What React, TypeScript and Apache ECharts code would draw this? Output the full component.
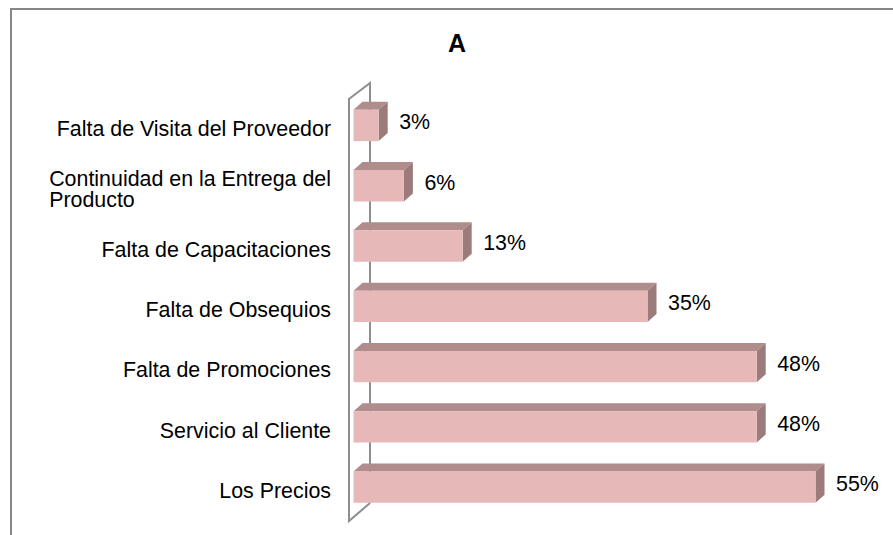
import React, { useEffect, useRef } from "react";
import * as echarts from "echarts";

const title = "A";
const categories = [
  "Falta de Visita del Proveedor",
  "Continuidad en la Entrega del\nProducto",
  "Falta de Capacitaciones",
  "Falta de Obsequios",
  "Falta de Promociones",
  "Servicio al Cliente",
  "Los Precios",
];
const values = [3, 6, 13, 35, 48, 48, 55];
const axisMax = 60;

const FONT = "'Liberation Sans', Arial, sans-serif";
const FS = 21.4;
const GRID_LEFT = 349;
const GRID_TOP = 99;
const GRID_BOTTOM_Y = 521;
const GRID_RIGHT = 40;
const WALL_DX = 21;
const WALL_DY = 16;

export default function App() {
  const ref = useRef<HTMLDivElement>(null);
  useEffect(() => {
    if (!ref.current) return;
    const chart = echarts.init(ref.current, null, { renderer: "svg" });
    const front = "#E6B9B8";
    const topC = "#B08C8C";
    const sideC = "#9C7B7B";
    chart.setOption({
      animation: false,
      backgroundColor: "#ffffff",
      grid: {
        left: GRID_LEFT,
        top: GRID_TOP,
        right: GRID_RIGHT,
        bottom: 535 - GRID_BOTTOM_Y,
        containLabel: false,
      },
      xAxis: { type: "value", min: 0, max: axisMax, show: false },
      yAxis: {
        type: "category",
        inverse: true,
        data: categories,
        axisLine: { show: false },
        axisTick: { show: false },
        splitLine: { show: false },
        axisLabel: {
          margin: 18,
          color: "#000",
          fontFamily: FONT,
          fontSize: FS,
          lineHeight: 21.5,
          formatter: (val: string) =>
            val
              .split("\n")
              .map((s) => `{l|${s}}`)
              .join("\n"),
          rich: {
            l: {
              align: "left",
              fontFamily: FONT,
              fontSize: FS,
              lineHeight: 21.5,
              color: "#000",
            },
          },
        },
      },
      graphic: [
        {
          type: "rect",
          z: 0,
          shape: { x: 11, y: 9, width: 1000, height: 1000 },
          style: { fill: "none", stroke: "#868686", lineWidth: 2 },
        },
        {
          type: "polyline",
          z: 0,
          shape: {
            points: [
              [GRID_LEFT + WALL_DX, GRID_BOTTOM_Y - WALL_DY - 2],
              [GRID_LEFT, GRID_BOTTOM_Y],
              [GRID_LEFT, GRID_TOP],
              [GRID_LEFT + WALL_DX, GRID_TOP - WALL_DY],
              [GRID_LEFT + WALL_DX, GRID_BOTTOM_Y - WALL_DY - 2],
            ],
          },
          style: { fill: "none", stroke: "#8E8E8E", lineWidth: 2 },
        },
        {
          type: "text",
          z: 5,
          x: 457,
          y: 43,
          style: {
            text: title,
            align: "center",
            verticalAlign: "middle",
            font: `bold 25px ${FONT}`,
            fill: "#000",
          },
        },
      ],
      series: [
        {
          type: "custom",
          z: 3,
          encode: { x: 0, y: 1 },
          data: values.map((v, i) => [v, i]),
          renderItem: (params: any, api: any) => {
            const v = api.value(0);
            const idx = api.value(1);
            const p0 = api.coord([0, idx]);
            const p1 = api.coord([v, idx]);
            const band = api.size([0, 1])[1];
            const h = band * 0.52;
            const ox = 4.5;
            const oy = -3.7;
            const x0 = p0[0] + ox;
            const x1 = p1[0] + ox;
            const yc = p0[1] + oy;
            const top = yc - h / 2;
            const bot = yc + h / 2;
            const dx = 9;
            const dy = 8;
            return {
              type: "group",
              children: [
                {
                  type: "polygon",
                  shape: {
                    points: [
                      [x0, top],
                      [x0 + dx, top - dy],
                      [x1 + dx, top - dy],
                      [x1, top],
                    ],
                  },
                  style: { fill: topC },
                },
                {
                  type: "polygon",
                  shape: {
                    points: [
                      [x1, top],
                      [x1 + dx, top - dy],
                      [x1 + dx, bot - dy],
                      [x1, bot],
                    ],
                  },
                  style: { fill: sideC },
                },
                {
                  type: "rect",
                  shape: { x: x0, y: top, width: x1 - x0, height: h },
                  style: { fill: front },
                },
                {
                  type: "text",
                  x: x1 + 20.5,
                  y: yc - 3,
                  style: {
                    text: v + "%",
                    align: "left",
                    verticalAlign: "middle",
                    font: `${FS}px ${FONT}`,
                    fill: "#000",
                  },
                },
              ],
            };
          },
        },
      ],
    });
    return () => chart.dispose();
  }, []);
  return (
    <div
      ref={ref}
      style={{ position: "absolute", left: 0, top: 0, width: 893, height: 535 }}
    />
  );
}
